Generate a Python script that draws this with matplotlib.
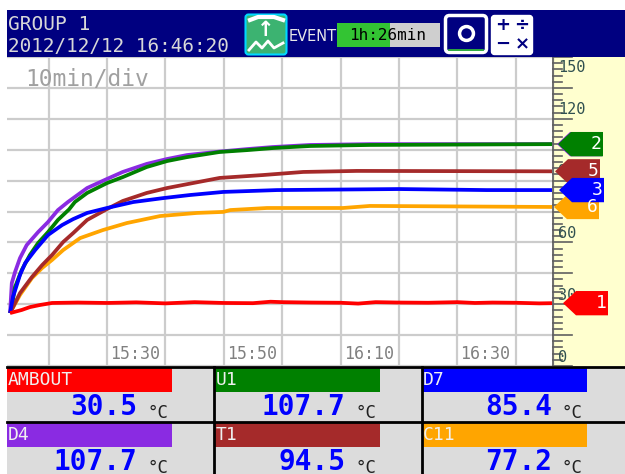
import matplotlib
matplotlib.use("Agg")
import matplotlib.pyplot as plt
from matplotlib.patches import Rectangle, Polygon, FancyBboxPatch

W, H = 625, 474
MONO = "DejaVu Sans Mono"

# ---- data (time = minutes after 15:00, value = deg C) ----
d4_t = [13.4, 13.5, 13.7, 14.25, 15.1, 16.25, 18.2, 19.9, 21.6, 23.3, 26.6, 30, 32.7, 36.8, 40.3, 43.7, 49.3, 54, 58.4, 64.8, 75, 106.2]
d4_vals = [25.7, 30.6, 40.3, 45.6, 52.4, 58.7, 65, 69.9, 75.7, 79.6, 86.4, 90.8, 94.2, 98.1, 100.5, 102.4, 104.1, 105.3, 106.3, 107.3, 107.7, 107.7]
u1_t = [13.4, 13.6, 14.25, 15.4, 16.8, 18.2, 19.9, 21.6, 23.5, 24.5, 26.6, 30, 32.7, 36.8, 40.3, 43.7, 49.3, 54, 58.4, 64.8, 75, 106.2]
u1_vals = [25.7, 27.2, 38.3, 46.6, 53.9, 59.7, 65, 70.9, 76, 79.6, 84, 88.8, 91.7, 96.6, 99.5, 101.4, 103.9, 104.8, 105.8, 106.8, 107.3, 107.7]
d7_t = [13.4, 13.9, 15.1, 16, 17.7, 19.9, 22.3, 24.2, 26.6, 30, 34.5, 39.6, 44.2, 49.9, 59.1, 80, 95, 106.2]
d7_vals = [25.7, 33.5, 44.2, 50, 56.3, 63.6, 68.4, 71.3, 74.3, 76.7, 79.6, 81.5, 83, 84.5, 85.4, 85.9, 85.4, 85.4]
t1_t = [13.4, 15.1, 17.15, 18.9, 20.6, 22.5, 24.2, 26.6, 30, 32.7, 36.8, 40.3, 44.7, 49.3, 56.7, 63.6, 72.8, 106.2]
t1_vals = [25.7, 35.4, 43.2, 49, 53.9, 60.2, 64.5, 70.9, 76.2, 80.1, 84, 86.4, 88.8, 91.3, 92.7, 94.2, 94.7, 94.5]
c11_t = [13.4, 15.1, 17.15, 18.9, 20.6, 22.5, 24.2, 25.4, 29.3, 33.4, 39.1, 45.4, 49.9, 51.1, 57.4, 70.4, 75, 106.2]
c11_vals = [25.7, 34.5, 42.7, 47.6, 51.5, 56.3, 59.7, 62.1, 66, 69.4, 72.8, 74.3, 74.8, 75.7, 76.7, 76.7, 77.7, 77.2]
red_t = [13.4, 15.4, 16.8, 18.5, 20.6, 25, 30, 35, 40, 45, 50, 55, 58, 60, 65, 70, 73, 76, 80, 85, 90, 93, 96, 100, 104, 106.2]
red_vals = [25.7, 27.2, 28.6, 29.6, 30.6, 30.8, 30.6, 30.9, 30.4, 31.0, 30.6, 30.5, 31.2, 31.0, 30.8, 30.7, 30.3, 31.0, 30.8, 30.7, 31.0, 30.6, 30.8, 30.7, 30.4, 30.5]

series_names = ["AMBOUT", "U1", "D7", "D4", "T1", "C11"]
series_colors = ["#ff0000", "#008000", "#0000ff", "#8a2be2", "#a52a2a", "#ffa500"]
series_readings = ["30.5", "107.7", "85.4", "107.7", "94.5", "77.2"]

time_ticks = [30, 50, 70, 90]
time_labels = ["15:30", "15:50", "16:10", "16:30"]
scale_ticks = [150, 120, 90, 60, 30, 0]

flag_order = [("4", 107.7, "#8a2be2"), ("2", 107.7, "#008000"), ("6", 77.2, "#ffa500"),
              ("5", 94.5, "#a52a2a"), ("3", 85.4, "#0000ff"), ("1", 30.5, "#ff0000")]
flag_tip = {"4": 557, "2": 558, "6": 554, "5": 555, "3": 559, "1": 563}

fig = plt.figure(figsize=(W / 100, H / 100), dpi=100, facecolor="white")


def rect_axes(x0, y0, x1, y1, **kw):
    return fig.add_axes([x0 / W, 1 - y1 / H, (x1 - x0) / W, (y1 - y0) / H], **kw)


# ---- trend plot ----
PX0, PX1, PY0, PY1 = 7, 552, 57, 366
ax = rect_axes(PX0, PY0, PX1, PY1)
min_per_px = 10 / 58.4
ax.set_xticks(range(10, 110, 10))
ax.set_yticks(range(0, 151, 15))
ax.set_xlim(30 - (107 - PX0) * min_per_px, 30 + (PX1 - 107) * min_per_px)
ax.set_ylim(0, 150)
ax.grid(True, color="#cccccc", lw=1.6)
ax.set_axisbelow(True)
ax.tick_params(length=0, labelbottom=False, labelleft=False)
for s in ax.spines.values():
    s.set_visible(False)
lw = 2.7
ax.plot(d4_t, d4_vals, color="#8a2be2", lw=lw, solid_capstyle="butt")
ax.plot(u1_t, u1_vals, color="#008000", lw=lw, solid_capstyle="butt")
ax.plot(c11_t, c11_vals, color="#ffa500", lw=lw, solid_capstyle="butt")
ax.plot(t1_t, t1_vals, color="#a52a2a", lw=lw, solid_capstyle="butt")
ax.plot(d7_t, d7_vals, color="#0000ff", lw=lw, solid_capstyle="butt")
ax.plot(red_t, red_vals, color="#ff0000", lw=lw, solid_capstyle="butt")
for t, lab in zip(time_ticks, time_labels):
    ax.annotate(lab, (t, 0), xytext=(3, 3), textcoords="offset pixels", ha="left", va="bottom",
                family=MONO, fontsize=12, color="#808080", annotation_clip=False)
ax.text(18 / (PX1 - PX0), 0.926, "10min/div", transform=ax.transAxes, ha="left",
        va="center", family=MONO, fontsize=16.5, color="#a0a0a0")

# ---- scale strip ----
sc = rect_axes(PX1, PY0, W, PY1, facecolor="#ffffcf")
sc.set_xlim(PX1, W)
sc.set_ylim(0, 150)
sc.set_xticks([])
sc.set_yticks([])
for s in sc.spines.values():
    s.set_visible(False)
sc.axvline(PX1, color="#707070", lw=3, zorder=2)
for v in range(0, 151, 3):
    long_tick = v % 15 == 0
    sc.plot([PX1, PX1 + (20 if long_tick else 10)], [v, v], color="#606060", lw=1.2, zorder=2)
for v in scale_ticks:
    dy = -10 if v == 150 else 9
    sc.annotate(str(v), (PX1 + 6, v), xytext=(0, dy), textcoords="offset pixels", ha="left",
                va="center", family=MONO, fontsize=11, color="#305050", zorder=3)
half = 5.9  # half flag height in deg C
for lab, val, col in flag_order:
    tip = flag_tip[lab]
    right = tip + 45
    sc.add_patch(Polygon([(tip, val), (tip + 13, val + half), (right, val + half),
                          (right, val - half), (tip + 13, val - half)], closed=True,
                         facecolor=col, edgecolor="none", zorder=5))
    if lab != "4":
        sc.text(right - 7, val, lab, ha="center", va="center", family=MONO, fontsize=13,
                color="white", zorder=6)

# ---- overlay for header and panels, in pixel coordinates ----
ov = fig.add_axes([0, 0, 1, 1], facecolor="none")
ov.set_xlim(0, W)
ov.set_ylim(H, 0)
ov.axis("off")

# header
NAVY = "#000080"
ov.add_patch(Rectangle((7, 10), W - 7, 47, facecolor=NAVY, edgecolor="none"))
ov.text(8, 24, "GROUP 1", family=MONO, fontsize=14, color="#d8d8d8", va="center")
ov.text(8, 46, "2012/12/12 16:46:20", family=MONO, fontsize=13.9, color="#d8d8d8", va="center")
ov.add_patch(FancyBboxPatch((247, 16), 38, 37, boxstyle="round,pad=1.5,rounding_size=3",
                            facecolor="#3cb371", edgecolor="#00d8ff", lw=1.5))
ov.text(266, 30, "\u2191", family="DejaVu Sans", fontsize=15, fontweight="bold", color="white",
        ha="center", va="center")
ov.plot([249, 256, 262, 268, 274, 283], [50, 42, 48, 41, 48, 43], color="white", lw=2)
ov.plot([250, 258, 274, 283], [20, 17, 17, 20], color="white", lw=3)
ov.text(289, 36, "EVENT", family="DejaVu Sans", fontsize=10.5, color="#e8e8e8", va="center")
ov.add_patch(Rectangle((337, 23), 103, 24, facecolor="#cfcfcf", edgecolor="none"))
ov.add_patch(Rectangle((337, 23), 53, 24, facecolor="#33c433", edgecolor="none"))
ov.text(388, 35.5, "1h:26min", family=MONO, fontsize=11.5, color="black", ha="center", va="center")
ov.add_patch(FancyBboxPatch((447, 17), 38, 34, boxstyle="round,pad=1.5,rounding_size=4",
                            facecolor=NAVY, edgecolor="white", lw=2.5))
ov.plot([449, 483], [50, 50], color="#33c433", lw=1.2)
ov.plot([466], [33], marker="o", ms=10, mfc=NAVY, mec="white", mew=2.5)
ov.add_patch(FancyBboxPatch((493, 17), 38, 36, boxstyle="round,pad=1.5,rounding_size=3",
                            facecolor="white", edgecolor="white"))
for gx, gy, g in [(503, 25, "+"), (522, 25, "\u00f7"), (503, 44, "\u2212"), (522, 44, "\u00d7")]:
    ov.text(gx, gy, g, family="DejaVu Sans", fontsize=13, fontweight="bold", color=NAVY,
            ha="center", va="center")

# digital panels
ov.add_patch(Rectangle((7, 367), W - 7, H - 367, facecolor="#dcdcdc", edgecolor="none"))
col_x = [7, 215, 422]
row_y = [368, 423]
for i, (name, col, reading) in enumerate(zip(series_names, series_colors, series_readings)):
    x0, y0 = col_x[i % 3], row_y[i // 3]
    ov.add_patch(Rectangle((x0, y0), 165, 24, facecolor=col, edgecolor="none"))
    ov.text(x0 + 1, y0 + 12, name, family=MONO, fontsize=13, color="#f0f0f0", va="center")
    ov.text(x0 + 130, y0 + 39, reading, family=MONO, fontweight="bold", fontsize=20, color="#0000ff",
            ha="right", va="center")
    ov.text(x0 + 140, y0 + 45, "\u00b0C", family=MONO, fontsize=12.5, color="#202020", ha="left",
            va="center")
ov.plot([7, W], [367, 367], color="black", lw=2)
ov.plot([7, W], [422, 422], color="black", lw=2)
ov.plot([213.5, 213.5], [367, H], color="black", lw=2)
ov.plot([421.5, 421.5], [367, H], color="black", lw=2)

fig.savefig("out.png", dpi=100)
